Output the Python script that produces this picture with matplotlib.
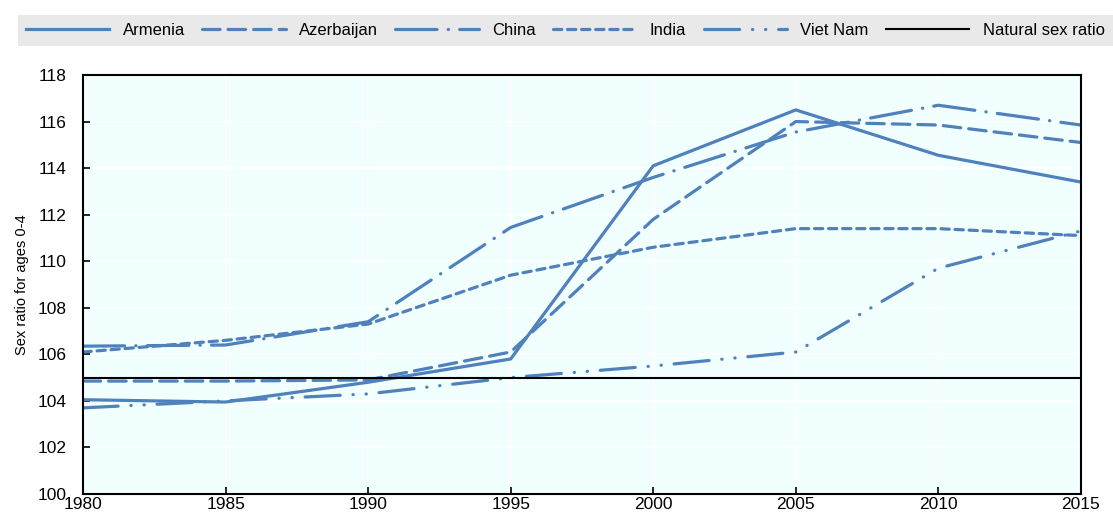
import matplotlib.pyplot as plt

plt.rcParams['font.family'] = ['Liberation Sans', 'DejaVu Sans']

years = [1980, 1985, 1990, 1995, 2000, 2005, 2010, 2015]
armenia = [104.05, 103.95, 104.8, 105.8, 114.1, 116.5, 114.55, 113.4]
azerbaijan = [104.85, 104.85, 104.9, 106.1, 111.8, 116.0, 115.85, 115.1]
china = [106.35, 106.4, 107.4, 111.45, 113.6, 115.55, 116.7, 115.85]
india = [106.1, 106.6, 107.3, 109.4, 110.6, 111.4, 111.4, 111.1]
viet_nam = [103.7, 104.0, 104.3, 105.0, 105.5, 106.1, 109.7, 111.3]
natural_ratio = 105

blue = '#4f81bd'

fig = plt.figure(figsize=(11.13, 5.19), dpi=100)
ax = fig.add_axes([0.0746, 0.0482, 0.8966, 0.8073])
ax.set_facecolor('#f2ffff')

lw = 2.3
ax.plot(years, armenia, color=blue, lw=lw, label='Armenia')
ax.plot(years, azerbaijan, color=blue, lw=lw, label='Azerbaijan',
        dashes=(5.5, 2.5), dash_capstyle='round')
ax.plot(years, china, color=blue, lw=lw, label='China',
        dashes=(13, 3.5, 0.1, 3.5), dash_capstyle='round')
ax.plot(years, india, color=blue, lw=lw, label='India',
        dashes=(2.6, 1.8), dash_capstyle='round')
ax.plot(years, viet_nam, color=blue, lw=lw, label='Viet Nam',
        dashes=(11, 4, 0.1, 4, 0.1, 4), dash_capstyle='round')
ax.axhline(natural_ratio, color='black', lw=1.5, label='Natural sex ratio')

ax.set_xlim(1980, 2015)
ax.set_ylim(100, 118)
ax.set_xticks(range(1980, 2016, 5))
ax.set_yticks(range(100, 119, 2))
ax.grid(True, color='white', lw=1.2)
ax.set_axisbelow(True)
for s in ax.spines.values():
    s.set_color('black')
    s.set_linewidth(1.5)
ax.tick_params(direction='in', length=5, width=1.2, labelsize=12.5)
ax.tick_params(axis='y', pad=12)
ax.tick_params(axis='x', pad=2)
ax.set_ylabel('Sex ratio for ages 0-4', fontsize=10.5, labelpad=6)

leg = fig.legend(loc='lower left', bbox_to_anchor=(0.016, 0.911, 0.984, 0.066),
                 mode='expand', ncol=6, fontsize=12, frameon=True, fancybox=False,
                 handlelength=5, borderaxespad=0, borderpad=0.5)
leg.get_frame().set_facecolor('#e9e9e9')
leg.get_frame().set_edgecolor('none')
leg.get_frame().set_alpha(1)

fig.savefig('out.png', dpi=100)
